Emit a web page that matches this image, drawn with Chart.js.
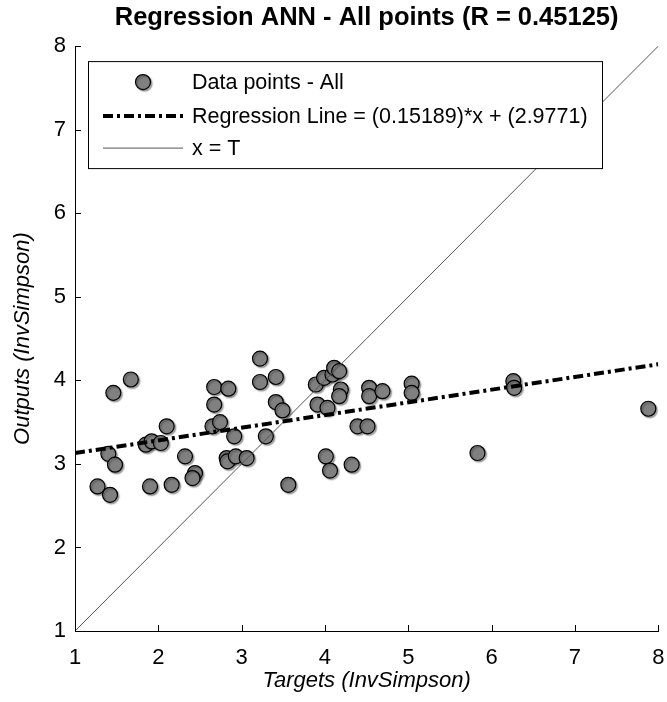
<!DOCTYPE html>
<html>
<head>
<meta charset="utf-8">
<title>Regression ANN - All points</title>
<script src="https://cdn.jsdelivr.net/npm/chart.js@4.4.1/dist/chart.umd.min.js"></script>
<style>
  html, body { margin: 0; padding: 0; background: #fff; }
  #wrap { width: 667px; height: 702px; }
</style>
</head>
<body>
<div id="wrap"><canvas id="regChart" width="667" height="702"></canvas></div>
<script>
// targets (x) and network outputs (y)
const targets = [1.27, 1.42, 1.40, 1.48, 1.46, 1.67, 1.85, 1.92, 2.03, 2.10,
                 1.90, 2.16, 2.32, 2.44, 2.41, 2.65, 2.74, 2.67, 2.67, 2.84,
                 2.82, 2.83, 2.93, 3.06, 2.91, 3.29, 3.22, 3.22, 3.41, 3.41,
                 3.49, 3.56, 3.89, 3.91, 3.99, 4.03, 4.09, 4.11, 4.17, 4.19,
                 4.17, 4.01, 4.06, 4.32, 4.39, 4.51, 4.53, 4.53, 4.69, 5.04,
                 5.04, 5.83, 6.26, 6.27, 7.88];
const outputs = [2.73, 2.63, 3.12, 2.99, 3.85, 4.01, 3.23, 3.27, 3.25, 3.45,
                 2.73, 2.75, 3.09, 2.89, 2.83, 3.45, 3.50, 3.71, 3.92, 3.90,
                 3.07, 3.03, 3.09, 3.07, 3.33, 3.33, 4.26, 3.98, 4.04, 3.74,
                 3.64, 2.75, 3.95, 3.71, 4.03, 3.67, 4.07, 4.15, 4.11, 3.89,
                 3.81, 3.09, 2.92, 2.99, 3.45, 3.45, 3.91, 3.81, 3.87, 3.96,
                 3.85, 3.13, 3.99, 3.91, 3.66];

// regression line end points: (0.15189)*x + (2.9771) at x = 1 and x = 8
const regX = [1, 8];
const regY = [3.1290, 4.1922];

// x = T reference line
const idX = [1, 8];
const idY = [1, 8];

const xTicks = [1, 2, 3, 4, 5, 6, 7, 8];
const yTicks = [1, 2, 3, 4, 5, 6, 7, 8];

const legendLabels = ['Data points - All', 'Regression Line = (0.15189)*x + (2.9771)', 'x = T'];

const FONT = '"Liberation Sans", Arial, Helvetica, sans-serif';

const toPoints = (xs, ys) => xs.map((x, i) => ({ x: x, y: ys[i] }));

// soft drop shadow under the markers
const markerShadow = {
    id: 'markerShadow',
    beforeDatasetDraw(chart, args) {
        if (args.index !== 0) return;
        const c = chart.ctx;
        c.save();
        c.shadowColor = 'rgba(0,0,0,0.35)';
        c.shadowOffsetX = 1.5;
        c.shadowOffsetY = 1.5;
        c.shadowBlur = 1.5;
    },
    afterDatasetDraw(chart, args) {
        if (args.index === 0) chart.ctx.restore();
    }
};

// small inward tick marks like matlab
const innerTicks = {
    id: 'innerTicks',
    afterDraw(chart) {
        const c = chart.ctx;
        const a = chart.chartArea;
        const xs = chart.scales.x, ys = chart.scales.y;
        c.save();
        c.strokeStyle = '#000';
        c.lineWidth = 1;
        c.beginPath();
        xTicks.forEach(v => {
            const px = Math.round(xs.getPixelForValue(v)) + 0.5;
            c.moveTo(px, a.bottom);
            c.lineTo(px, a.bottom - 6);
        });
        yTicks.forEach(v => {
            const py = Math.round(ys.getPixelForValue(v)) + 0.5;
            c.moveTo(a.left, py);
            c.lineTo(a.left + 6, py);
        });
        c.stroke();
        c.restore();
    }
};

// boxed legend inside the axes (top left)
const boxLegend = {
    id: 'boxLegend',
    afterDatasetsDraw(chart) {
        const c = chart.ctx;
        const a = chart.chartArea;
        const ds = chart.data.datasets;
        const x0 = a.left + 13, y0 = a.top + 15, w = 514, h = 107;
        const rows = [y0 + 21, y0 + 55, y0 + 87];
        const s0 = x0 + 15, s1 = x0 + 95, tx = x0 + 104;

        c.save();
        c.fillStyle = '#fff';
        c.fillRect(x0, y0, w, h);
        c.strokeStyle = '#000';
        c.lineWidth = 1;
        c.strokeRect(x0 + 0.5, y0 + 0.5, w, h);

        // marker
        c.save();
        c.shadowColor = 'rgba(0,0,0,0.35)';
        c.shadowOffsetX = 1.5;
        c.shadowOffsetY = 1.5;
        c.shadowBlur = 1.5;
        c.beginPath();
        c.arc((s0 + s1) / 2, rows[0], ds[0].pointRadius, 0, Math.PI * 2);
        c.fillStyle = ds[0].pointBackgroundColor;
        c.fill();
        c.lineWidth = ds[0].pointBorderWidth;
        c.strokeStyle = ds[0].pointBorderColor;
        c.stroke();
        c.restore();

        // line samples
        [1, 2].forEach(i => {
            c.beginPath();
            c.setLineDash(ds[i].borderDash || []);
            c.lineWidth = ds[i].borderWidth;
            c.strokeStyle = ds[i].borderColor;
            c.moveTo(s0, rows[i]);
            c.lineTo(s1, rows[i]);
            c.stroke();
        });
        c.setLineDash([]);

        c.fillStyle = '#000';
        c.font = '21.5px ' + FONT;
        c.textBaseline = 'middle';
        c.textAlign = 'left';
        legendLabels.forEach((t, i) => c.fillText(t, tx, rows[i] + 1));
        c.restore();
    }
};

const ctx = document.getElementById('regChart').getContext('2d');
new Chart(ctx, {
    type: 'scatter',
    data: {
        datasets: [{
            label: legendLabels[0],
            data: toPoints(targets, outputs),
            pointRadius: 7.5,
            pointBackgroundColor: '#808080',
            pointBorderColor: '#000',
            pointBorderWidth: 1.2,
            order: 3
        }, {
            label: legendLabels[1],
            data: toPoints(regX, regY),
            showLine: true,
            borderColor: '#000',
            borderWidth: 4,
            borderDash: [10, 4, 3, 4],
            pointRadius: 0,
            order: 1
        }, {
            label: legendLabels[2],
            data: toPoints(idX, idY),
            showLine: true,
            borderColor: '#555',
            borderWidth: 1,
            pointRadius: 0,
            order: 2
        }]
    },
    options: {
        responsive: false,
        animation: false,
        events: [],
        layout: { padding: { left: 0, right: 0, top: 0, bottom: 0 } },
        plugins: {
            legend: { display: false },
            tooltip: { enabled: false },
            title: {
                display: true,
                fullSize: false,
                text: 'Regression ANN - All points (R = 0.45125)',
                color: '#000',
                font: { family: FONT, size: 25.5, weight: 'bold' },
                padding: { top: 2.5, bottom: 13 }
            }
        },
        scales: {
            x: {
                type: 'linear',
                min: 1,
                max: 8,
                afterBuildTicks: s => { s.ticks = xTicks.map(v => ({ value: v })); },
                afterFit: s => { s.height = 71; s.paddingLeft = 0; s.paddingRight = 7; },
                grid: { display: false, drawTicks: false },
                border: { display: true, color: '#000', width: 1 },
                ticks: {
                    color: '#000',
                    font: { family: FONT, size: 22 },
                    padding: 14,
                    maxRotation: 0,
                    autoSkip: false
                },
                title: {
                    display: true,
                    text: 'Targets (InvSimpson)',
                    color: '#000',
                    font: { family: FONT, size: 22, style: 'italic' },
                    padding: { top: 0, bottom: 8 }
                }
            },
            y: {
                type: 'linear',
                min: 1,
                max: 8,
                afterBuildTicks: s => { s.ticks = yTicks.map(v => ({ value: v })); },
                afterFit: s => { s.width = 75; },
                grid: { display: false, drawTicks: false },
                border: { display: true, color: '#000', width: 1 },
                ticks: {
                    color: '#000',
                    font: { family: FONT, size: 22 },
                    padding: 9,
                    autoSkip: false
                },
                title: {
                    display: true,
                    text: 'Outputs (InvSimpson)',
                    color: '#000',
                    font: { family: FONT, size: 22, style: 'italic' },
                    padding: { top: 10, bottom: 0 }
                }
            }
        }
    },
    plugins: [markerShadow, innerTicks, boxLegend]
});
</script>
</body>
</html>
